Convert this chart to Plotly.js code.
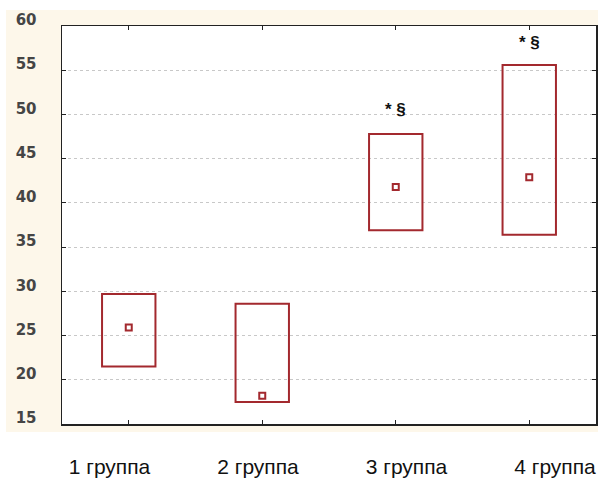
<!DOCTYPE html>
<html>
<head>
<meta charset="utf-8">
<script src="https://cdn.plot.ly/plotly-3.0.1.min.js"></script>
<style>html,body{margin:0;padding:0;background:#fff;}#chart{width:598px;height:481px;}</style>
</head>
<body>
<div id="chart"></div>
<script>
const categories = ["1 группа", "2 группа", "3 группа", "4 группа"];
const lowValues = [21.5, 17.5, 36.9, 36.4];
const highValues = [29.7, 28.6, 47.8, 55.6];
const meanValues = [25.9, 18.2, 41.8, 42.9];
const markLabels = ["", "", "* §", "* §"];
const markY = [null, null, 50.6, 58.1];
const yTicks = [15, 20, 25, 30, 35, 40, 45, 50, 55, 60];

const boxColor = "#a3292e";

const boxes = {
  type: "bar",
  x: categories,
  base: lowValues,
  y: highValues.map((h, i) => h - lowValues[i]),
  width: 0.4,
  marker: {color: "rgba(0,0,0,0)", line: {color: boxColor, width: 2}},
  hoverinfo: "skip",
  showlegend: false
};

const means = {
  type: "scatter",
  mode: "markers",
  x: categories,
  y: meanValues,
  marker: {symbol: "square-open", size: 6, color: boxColor, line: {width: 2, color: boxColor}},
  showlegend: false
};

// carries the group labels on a second (label-only) x axis
const labelCarrier = {
  type: "scatter",
  mode: "markers",
  x: categories,
  y: meanValues,
  xaxis: "x2",
  marker: {opacity: 0},
  hoverinfo: "skip",
  showlegend: false
};

const annotations = [];
markLabels.forEach((t, i) => {
  if (t) annotations.push({
    x: categories[i], y: markY[i], xref: "x", yref: "y",
    text: "<b>" + t + "</b>", showarrow: false,
    font: {family: "Liberation Sans, Arial, sans-serif", size: 17, color: "#111"}
  });
});

const layout = {
  width: 598, height: 481,
  margin: {l: 62, r: 2, t: 26, b: 57},
  paper_bgcolor: "#ffffff",
  plot_bgcolor: "#ffffff",
  showlegend: false,
  xaxis: {
    type: "category",
    range: [-0.5, 3.5],
    showline: true, linecolor: "#222", linewidth: 1.5, mirror: "ticks",
    ticks: "inside", ticklen: 4, tickcolor: "#222",
    showgrid: false, zeroline: false,
    showticklabels: false
  },
  xaxis2: {
    type: "category",
    overlaying: "x",
    anchor: "y",
    side: "bottom",
    range: [-0.32, 3.276],
    showline: false, showgrid: false, zeroline: false, ticks: "",
    tickfont: {family: "Liberation Sans, Arial, sans-serif", size: 21, color: "#111"},
    ticklabelstandoff: 28
  },
  yaxis: {
    range: [15, 60],
    tickvals: yTicks,
    showline: true, linecolor: "#222", linewidth: 1.5, mirror: "ticks",
    ticks: "inside", ticklen: 4, tickcolor: "#222",
    showgrid: true, gridcolor: "#c8c8c8", griddash: "dot", gridwidth: 1,
    zeroline: false,
    tickfont: {family: "DejaVu Sans, Verdana, sans-serif", size: 15, color: "#454545", weight: "bold"},
    ticklabelstandoff: 21,
    ticklabelshift: -6
  },
  annotations: annotations,
  shapes: [{
    type: "rect", xref: "paper", yref: "paper", layer: "below",
    x0: -56 / 534, x1: 1.01, y0: -8 / 398, y1: 1 + 16 / 398,
    fillcolor: "#fdf7ea", line: {width: 0}
  }, {
    type: "rect", xref: "paper", yref: "paper", layer: "below",
    x0: 0, x1: 1, y0: 0, y1: 1,
    fillcolor: "#ffffff", line: {width: 0}
  }]
};

Plotly.newPlot("chart", [boxes, means, labelCarrier], layout, {displayModeBar: false, staticPlot: true});
</script>
</body>
</html>
